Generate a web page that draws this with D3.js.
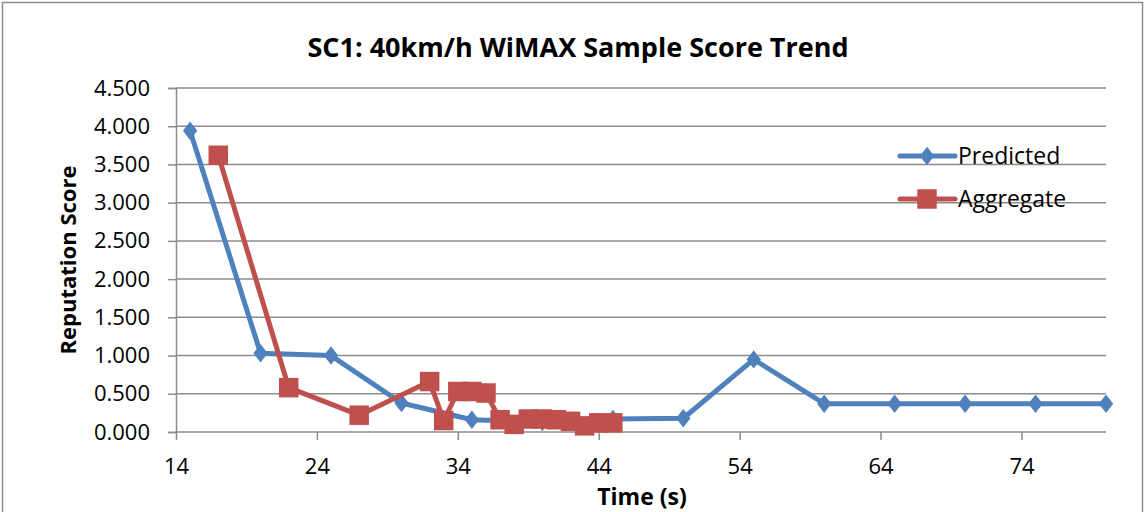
<!DOCTYPE html>
<html>
<head>
<meta charset="utf-8">
<script src="https://cdn.jsdelivr.net/npm/d3@7"></script>
<style>
  body { margin: 0; background: #fff; }
  text { font-family: "Open Sans", "Noto Sans", sans-serif; fill: #000; }
</style>
</head>
<body>
<svg id="chart" width="1146" height="512"></svg>
<script>
// data
var predTime = [15, 20, 25, 30, 35, 40, 45, 50, 55, 60, 65, 70, 75, 80];
var predScore = [3.94, 1.03, 1.00, 0.38, 0.16, 0.13, 0.17, 0.18, 0.95, 0.37, 0.37, 0.37, 0.37, 0.37];

var aggTime = [17, 22, 27, 32, 33, 34, 35, 36, 37, 38, 39, 40, 41, 42, 43, 44, 45];
var aggScore = [3.62, 0.58, 0.22, 0.66, 0.15, 0.53, 0.53, 0.51, 0.16, 0.10, 0.17, 0.17, 0.16, 0.14, 0.08, 0.12, 0.12];

var xTicks = [14, 24, 34, 44, 54, 64, 74];
var yTicks = [0, 0.5, 1, 1.5, 2, 2.5, 3, 3.5, 4, 4.5];

var seriesNames = ["Predicted", "Aggregate"];
var seriesColors = ["#4f81bd", "#c0504d"];

var svg = d3.select("#chart");
var plot = { left: 176, right: 1106, top: 88, bottom: 432 };
var gridColor = "#8c8c8c";

var x = d3.scaleLinear().domain([14, 80]).range([plot.left, plot.right]);
var y = d3.scaleLinear().domain([0, 4.5]).range([plot.bottom, plot.top]);

// chart frame
svg.append("rect")
    .attr("x", 2.5).attr("y", 2.5)
    .attr("width", 1140).attr("height", 520)
    .attr("fill", "none").attr("stroke", gridColor).attr("stroke-width", 1.5);

svg.append("text")
    .attr("x", 578).attr("y", 57)
    .attr("text-anchor", "middle")
    .style("font-size", "27px").style("font-weight", "bold")
    .text("SC1: 40km/h WiMAX Sample Score Trend");

// y axis with gridlines
var yAxis = svg.append("g")
    .attr("transform", "translate(" + plot.left + ",0)")
    .call(d3.axisLeft(y).tickValues(yTicks).tickFormat(d3.format(".3f"))
        .tickSize(8).tickPadding(18));
yAxis.select(".domain").attr("stroke", gridColor).attr("stroke-width", 1.5);
yAxis.selectAll(".tick line").attr("stroke", gridColor).attr("stroke-width", 1.5);
yAxis.selectAll(".tick text").style("font-size", "22px").style("font-family", "Open Sans");

svg.append("g").selectAll("line")
    .data(yTicks)
  .enter()
    .append("line")
    .attr("x1", plot.left).attr("x2", plot.right)
    .attr("y1", function(d) { return y(d); })
    .attr("y2", function(d) { return y(d); })
    .attr("stroke", gridColor).attr("stroke-width", 1.5);

// x axis
var xAxis = svg.append("g")
    .attr("transform", "translate(0," + plot.bottom + ")")
    .call(d3.axisBottom(x).tickValues(xTicks).tickSize(8).tickPadding(18).tickSizeOuter(0));
xAxis.select(".domain").remove();
xAxis.selectAll(".tick line").attr("stroke", gridColor).attr("stroke-width", 1.5);
xAxis.selectAll(".tick text").style("font-size", "22px").style("font-family", "Open Sans");

svg.append("text")
    .attr("x", 642).attr("y", 505)
    .attr("text-anchor", "middle")
    .style("font-size", "23px").style("font-weight", "bold")
    .text("Time (s)");

svg.append("text")
    .attr("transform", "translate(76,260) rotate(-90)")
    .attr("text-anchor", "middle")
    .style("font-size", "22px").style("font-weight", "bold")
    .text("Reputation Score");

// series
var line = d3.line()
    .x(function(d) { return x(d[0]); })
    .y(function(d) { return y(d[1]); });

// taller-than-wide diamond like the spreadsheet marker
var tallDiamond = {
    draw: function(ctx, size) {
        var h = Math.sqrt(size) / 2, w = h * 0.78;
        ctx.moveTo(0, -h);
        ctx.lineTo(w, 0);
        ctx.lineTo(0, h);
        ctx.lineTo(-w, 0);
        ctx.closePath();
    }
};
var diamond = d3.symbol().type(tallDiamond).size(340);
var square = d3.symbol().type(d3.symbolSquare).size(380);

var series = [
    { pts: d3.zip(predTime, predScore), sym: diamond },
    { pts: d3.zip(aggTime, aggScore), sym: square }
];

series.forEach(function(s, i) {
    var g = svg.append("g");
    g.append("path")
        .attr("d", line(s.pts))
        .attr("fill", "none")
        .attr("stroke", seriesColors[i])
        .attr("stroke-width", 5)
        .attr("stroke-linejoin", "round");
    g.selectAll(".marker")
        .data(s.pts)
      .enter()
        .append("path")
        .attr("class", "marker")
        .attr("d", s.sym)
        .attr("transform", function(d) { return "translate(" + x(d[0]) + "," + y(d[1]) + ")"; })
        .attr("fill", seriesColors[i]);
});

// legend
var legend = svg.append("g").selectAll("g")
    .data(seriesNames)
  .enter()
    .append("g")
    .attr("transform", function(d, i) { return "translate(900," + (156 + i * 43) + ")"; });

legend.append("line")
    .attr("x1", 0).attr("x2", 55)
    .attr("stroke", function(d, i) { return seriesColors[i]; })
    .attr("stroke-width", 5)
    .attr("stroke-linecap", "round");
legend.append("path")
    .attr("d", function(d, i) { return series[i].sym(); })
    .attr("transform", "translate(27,0)")
    .attr("fill", function(d, i) { return seriesColors[i]; });
legend.append("text")
    .attr("x", 58).attr("y", 8)
    .style("font-size", "23px")
    .text(function(d) { return d; });
</script>
</body>
</html>
